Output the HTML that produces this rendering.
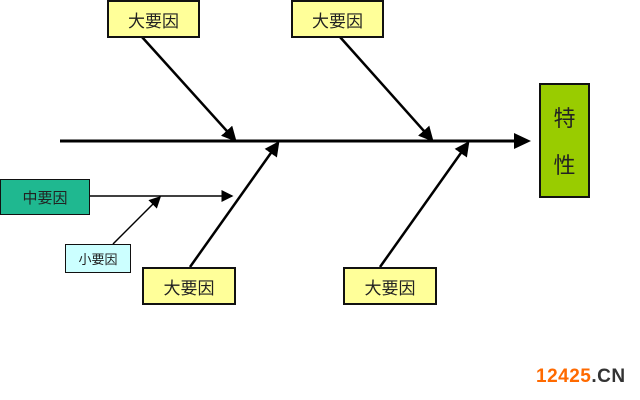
<!DOCTYPE html>
<html><head><meta charset="utf-8"><style>
body{margin:0;width:640px;height:400px;background:#fff;overflow:hidden;position:relative;font-family:"Liberation Sans","Noto Sans CJK SC",sans-serif}
.b{position:absolute;box-sizing:border-box;border:2px solid #111;display:flex;align-items:center;justify-content:center;color:#222}
</style></head><body>
<svg width="640" height="400" style="position:absolute;left:0;top:0">
<defs>
<marker id="a" markerWidth="6" markerHeight="6" refX="5" refY="3" orient="auto" markerUnits="strokeWidth"><path d="M0,0L6,3L0,6z" fill="#000"/></marker>
<marker id="s" markerWidth="8" markerHeight="8" refX="7" refY="4" orient="auto" markerUnits="strokeWidth"><path d="M0,0L8,4L0,8z" fill="#000"/></marker>
</defs>
<line x1="60" y1="141" x2="516" y2="141" stroke="#000" stroke-width="3"/>
<path d="M514,133L531,141L514,149z" fill="#000"/>
<line x1="142" y1="37" x2="235" y2="140" stroke="#000" stroke-width="2.5" marker-end="url(#a)"/>
<line x1="340" y1="37" x2="432" y2="140" stroke="#000" stroke-width="2.5" marker-end="url(#a)"/>
<line x1="190" y1="267" x2="278" y2="143" stroke="#000" stroke-width="2.5" marker-end="url(#a)"/>
<line x1="380" y1="267" x2="468" y2="143" stroke="#000" stroke-width="2.5" marker-end="url(#a)"/>
<line x1="89" y1="196" x2="232" y2="196" stroke="#000" stroke-width="1.5" marker-end="url(#s)"/>
<line x1="113" y1="244" x2="160" y2="197" stroke="#000" stroke-width="1.5" marker-end="url(#s)"/>
</svg>
<div class="b" style="left:107px;top:0;width:93px;height:38px;background:#ffff99;font-size:17px">大要因</div>
<div class="b" style="left:291px;top:0;width:93px;height:38px;background:#ffff99;font-size:17px">大要因</div>
<div class="b" style="left:142px;top:267px;width:94px;height:38px;background:#ffff99;font-size:17px">大要因</div>
<div class="b" style="left:343px;top:267px;width:94px;height:38px;background:#ffff99;font-size:17px">大要因</div>
<div class="b" style="left:0;top:179px;width:90px;height:36px;background:#1fb890;font-size:15px;border-width:1px">中要因</div>
<div class="b" style="left:65px;top:244px;width:66px;height:29px;background:#ccffff;font-size:13px;border-width:1px">小要因</div>
<div class="b" style="left:539px;top:83px;width:51px;height:115px;background:#99cc00;font-size:22px;flex-direction:column;justify-content:space-around;padding:8px 0">
<span>特</span><span>性</span></div>
<div style="position:absolute;left:536px;top:366px;font-weight:bold;font-size:19px;letter-spacing:0.5px"><span style="color:#ff6a00">12425</span><span style="color:#333">.CN</span></div>
</body></html>
